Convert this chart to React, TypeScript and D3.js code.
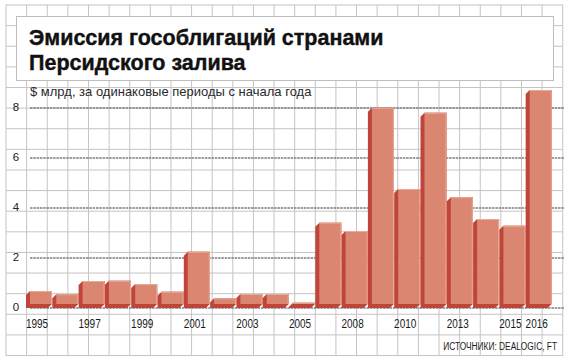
import React, { useEffect, useRef } from 'react';
import * as d3 from 'd3';

// Gulf states sovereign bond issuance, $bn, same period since start of year
const years = ['1995', '1996', '1997', '1998', '1999', '2000', '2001', '2002', '2003', '2004', '2005',
  '2007', '2008', '2009', '2010', '2012', '2013', '2014', '2015', '2016'];
const values = [0.52, 0.39, 0.92, 0.93, 0.8, 0.49, 2.09, 0.23, 0.4, 0.4, 0.05,
  3.25, 2.92, 7.85, 4.6, 7.65, 4.27, 3.4, 3.13, 8.56];
const labeledYears = ['1995', '1997', '1999', '2001', '2003', '2005', '2008', '2010', '2013', '2015', '2016'];
const yTicks = [0, 2, 4, 6, 8];

const titleLines = ['Эмиссия гособлигаций странами', 'Персидского залива'];
const subtitle = '$ млрд, за одинаковые периоды с начала года';
const source = 'ИСТОЧНИКИ: DEALOGIC, FT';

const W = 570;
const H = 361;

const App: React.FC = () => {
  const svgRef = useRef<SVGSVGElement>(null);

  useEffect(() => {
    if (!svgRef.current) return;
    const svg = d3.select(svgRef.current);
    svg.selectAll('*').remove();

    // graph-paper background
    const gx0 = 6, gy0 = 5, cell = 20.62;
    const cols = 27, rows = 17;
    const grid = svg.append('g').attr('stroke', '#c4c4c4').attr('stroke-width', 1);
    grid.append('rect')
      .attr('x', gx0).attr('y', gy0)
      .attr('width', cols * cell).attr('height', rows * cell)
      .attr('fill', '#fff');
    grid.selectAll('.v').data(d3.range(1, cols)).enter().append('line')
      .attr('x1', d => gx0 + d * cell).attr('x2', d => gx0 + d * cell)
      .attr('y1', gy0).attr('y2', gy0 + rows * cell);
    grid.selectAll('.h').data(d3.range(1, rows)).enter().append('line')
      .attr('y1', d => gy0 + d * cell).attr('y2', d => gy0 + d * cell)
      .attr('x1', gx0).attr('x2', gx0 + cols * cell);

    // title box
    svg.append('rect')
      .attr('x', 16.5).attr('y', 16.5)
      .attr('width', 537).attr('height', 64)
      .attr('fill', '#fff')
      .attr('stroke', '#bdbdbd');

    svg.selectAll('.title').data(titleLines).enter().append('text')
      .attr('x', 29)
      .attr('y', (d, i) => 45 + i * 25)
      .attr('fill', '#111')
      .attr('stroke', '#111')
      .attr('stroke-width', 0.4)
      .attr('font-family', "'Liberation Sans', Arial, sans-serif")
      .attr('font-size', '21.5px')
      .attr('font-weight', 'bold')
      .text(d => d);

    svg.append('text')
      .attr('x', 30).attr('y', 96)
      .attr('fill', '#2a2a2a')
      .attr('font-family', "'Liberation Sans', Arial, sans-serif")
      .attr('font-size', '13px')
      .text(subtitle);

    const x = d3.scaleBand<string>().domain(years).range([26, 547.7]).paddingInner(0.163).paddingOuter(0);
    const y = d3.scaleLinear().domain([0, 8]).range([308, 108]);
    const depth = 4;

    // dotted value lines
    svg.selectAll('.gl').data(yTicks).enter().append('line')
      .attr('x1', 30).attr('x2', 564)
      .attr('y1', d => y(d)).attr('y2', d => y(d))
      .attr('stroke', '#7e7e7e')
      .attr('stroke-width', 1.7)
      .attr('stroke-dasharray', '2.5,0.8');

    svg.selectAll('.yl').data(yTicks).enter().append('text')
      .attr('x', 16)
      .attr('y', d => y(d) + 3)
      .attr('text-anchor', 'middle')
      .attr('fill', '#222')
      .attr('font-family', "'Liberation Sans', Arial, sans-serif")
      .attr('font-size', '11.5px')
      .text(d => d);

    // 3D bars
    const bw = x.bandwidth();
    const base = y(0);
    const bars = svg.selectAll('.bar').data(years).enter().append('g');

    bars.append('path')
      .attr('fill', '#bf453a')
      .attr('d', (d, i) => {
        const x0 = x(d) as number;
        const top = y(values[i]);
        return `M${x0},${top}L${x0 + depth},${top - depth}L${x0 + bw + depth},${top - depth}` +
          `L${x0 + bw + depth},${base - depth}L${x0 + bw},${base}L${x0},${base}Z`;
      });

    bars.append('rect')
      .attr('x', d => (x(d) as number) + depth)
      .attr('y', (d, i) => y(values[i]) - depth)
      .attr('width', bw)
      .attr('height', (d, i) => base - y(values[i]))
      .attr('fill', '#da8671');

    // light rim on top/right edges of the front face
    bars.append('path')
      .attr('fill', 'none')
      .attr('stroke', '#eaa896')
      .attr('stroke-width', 1)
      .attr('d', (d, i) => {
        const x0 = (x(d) as number) + depth;
        const top = y(values[i]) - depth + 0.5;
        return `M${x0},${top}L${x0 + bw - 0.5},${top}L${x0 + bw - 0.5},${base - depth}`;
      });

    // year labels, horizontally condensed
    svg.selectAll('.xl').data(labeledYears).enter().append('text')
      .attr('transform', d => `translate(${(x(d) as number) + bw / 2},328) scale(0.8,1)`)
      .attr('text-anchor', 'middle')
      .attr('fill', '#1a1a1a')
      .attr('font-family', "'Liberation Sans', Arial, sans-serif")
      .attr('font-size', '12.5px')
      .text(d => d);

    svg.append('text')
      .attr('transform', 'translate(557,350) scale(0.76,1)')
      .attr('text-anchor', 'end')
      .attr('fill', '#1a1a1a')
      .attr('font-family', "'Liberation Sans', Arial, sans-serif")
      .attr('font-size', '11px')
      .text(source);
  }, []);

  return (
    <div style={{ position: 'absolute', left: 0, top: 0, width: W, height: H, background: '#fff' }}>
      <svg ref={svgRef} width={W} height={H} />
    </div>
  );
};

export default App;
